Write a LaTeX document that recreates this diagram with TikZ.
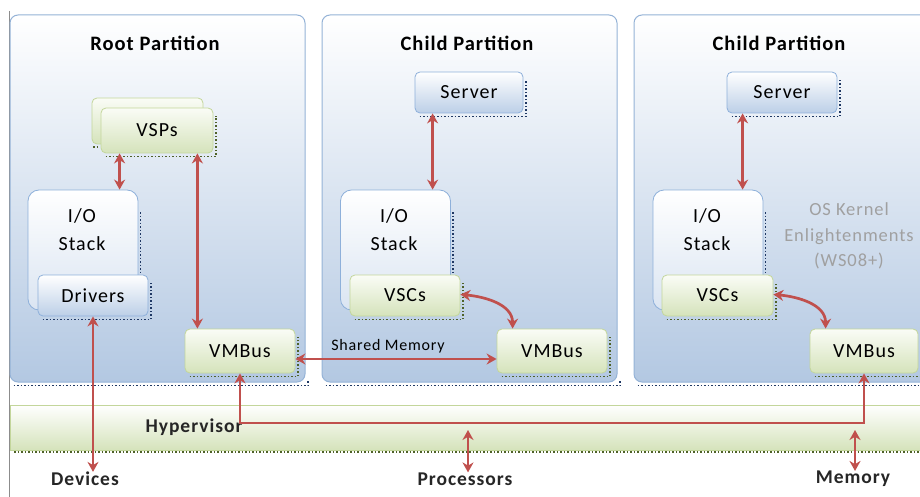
\documentclass[tikz,border=0pt]{standalone}
\usepackage{fontspec}
\setmainfont{Carlito}[LetterSpace=5]
\usetikzlibrary{arrows.meta,calc}
\definecolor{partborder}{HTML}{95B3D7}
\definecolor{partbot}{HTML}{B3C8E2}
\definecolor{partmid}{HTML}{D2DFEE}
\definecolor{blueborder}{HTML}{8EB0DA}
\definecolor{bluebot}{HTML}{BCCFE7}
\definecolor{greenborder}{HTML}{C3D69B}
\definecolor{greenbot}{HTML}{D5E3BB}
\definecolor{greentop}{HTML}{FAFCF6}
\definecolor{navydot}{HTML}{1F3864}
\definecolor{olivedot}{HTML}{4F6228}
\definecolor{arrred}{HTML}{C0504D}
\definecolor{graytxt}{HTML}{A0A0A0}
\newcommand\dotshade[2]{\draw[#1] ([xshift=5pt,yshift=-3pt]#2.south west) -- ([xshift=2.5pt,yshift=-3pt]#2.south east) -- ([xshift=2.5pt,yshift=-8pt]#2.north east);}
\newcommand\dotbottom[2]{\draw[#1] ([xshift=4pt,yshift=-3pt]#2.south west) -- ([xshift=2.5pt,yshift=-3pt]#2.south east) -- ([xshift=2.5pt,yshift=3pt]#2.south east);}
\tikzset{
  partition/.style={draw=partborder, line width=1pt, rounded corners=8pt, top color=white, middle color=partmid, bottom color=partbot, minimum width=295pt, minimum height=367pt, inner sep=0pt},
  bluebox/.style={draw=blueborder, line width=0.8pt, rounded corners=5pt, top color=white, bottom color=bluebot, inner sep=0pt, font=\fontsize{20}{25}\selectfont},
  greenbox/.style={draw=greenborder, line width=0.8pt, rounded corners=5pt, top color=greentop, bottom color=greenbot, inner sep=0pt, font=\fontsize{20}{25}\selectfont},
  iostack/.style={draw=blueborder, line width=0.8pt, rounded corners=11pt, top color=white, bottom color=bluebot!55, inner sep=0pt, minimum width=110pt, minimum height=120pt},
  lbl/.style={inner sep=0pt, font=\fontsize{20}{25}\selectfont},
  title/.style={inner sep=0pt, font=\bfseries\fontsize{20.5}{24}\selectfont},
  bottomlbl/.style={inner sep=0pt, font=\bfseries\fontsize{19.5}{24}\selectfont, text=black!85},
  bshade/.style={draw=navydot, dotted, line width=1.5pt},
  gshade/.style={draw=olivedot, dotted, line width=1.5pt},
  arr/.style={draw=arrred, line width=2.7pt, {Stealth[length=10pt,width=11pt]}-{Stealth[length=10pt,width=11pt]}},
}
\begin{document}
\begin{tikzpicture}[x=1pt,y=-1pt]
\clip (0,0) rectangle (920,497);
\fill[white] (0,0) rectangle (920,497);
% left thin line
\draw[black!45, line width=0.8pt] (9,11) -- (9,497);
% partitions
\node[partition] (rootP) at (157.5,198.5) {};
\node[partition] (childA) at (469.5,198.5) {};
\node[partition] (childB) at (781.5,198.5) {};
\dotbottom{bshade}{rootP}
\dotbottom{bshade}{childA}
\dotbottom{bshade}{childB}
\node[title] (tRoot) at (155,43) {Root Partition};
\node[title] (tChildA) at (467,43) {Child Partition};
\node[title] (tChildB) at (779,43) {Child Partition};
% hypervisor bar
\node[draw=greenborder, line width=0.8pt, top color=white, bottom color=greenbot, minimum width=925pt, minimum height=45pt, inner sep=0pt] (hyp) at (472.5,427.5) {};
\draw[gshade] (14,452) -- (920,452);
\node[bottomlbl] (hypl) at (194,427) {Hypervisor};
% root partition contents
\node[greenbox, minimum width=111pt, minimum height=46pt] (vspback) at (147.5,121) {};
\draw[gshade] (93,147) -- (99,147);
\node[greenbox, minimum width=112pt, minimum height=45pt] (vsp) at (157,130.5) {VSPs};
\dotshade{gshade}{vsp}
\node[iostack] (ioA) at (83,250) {};
\draw[bshade] (140.5,212) -- (140.5,273);
\node[lbl, align=center, font=\fontsize{20}{28}\selectfont] (ioAl) at (82,230) {I/O\\Stack};
\node[bluebox, minimum width=110pt, minimum height=41pt] (drv) at (93,295.5) {Drivers};
\dotshade{bshade}{drv}
\node[greenbox, minimum width=110pt, minimum height=44pt] (vmbA) at (240,351) {VMBus};
\dotshade{gshade}{vmbA}
% child A contents
\node[bluebox, minimum width=108pt, minimum height=41pt] (srvA) at (469,92.5) {Server};
\dotshade{bshade}{srvA}
\node[iostack] (ioB) at (395.5,250) {};
\draw[bshade] (453,212) -- (453,273);
\node[lbl, align=center, font=\fontsize{20}{28}\selectfont] (ioBl) at (394,230) {I/O\\Stack};
\node[greenbox, minimum width=110pt, minimum height=41pt] (vscA) at (405,295.5) {VSCs};
\dotshade{gshade}{vscA}
\node[greenbox, minimum width=110pt, minimum height=44pt] (vmbB) at (552,351) {VMBus};
\dotshade{gshade}{vmbB}
% child B contents
\node[bluebox, minimum width=110pt, minimum height=41pt] (srvB) at (782,92.5) {Server};
\dotshade{bshade}{srvB}
\node[iostack] (ioC) at (708,250) {};
\draw[bshade] (765.5,212) -- (765.5,273);
\node[lbl, align=center, font=\fontsize{20}{28}\selectfont] (ioCl) at (707,230) {I/O\\Stack};
\node[greenbox, minimum width=111pt, minimum height=41pt] (vscB) at (717.5,295.5) {VSCs};
\dotshade{gshade}{vscB}
\node[greenbox, minimum width=108pt, minimum height=44pt] (vmbC) at (864,351) {VMBus};
\dotshade{gshade}{vmbC}
\node[lbl, align=center, text=graytxt, font=\fontsize{18.5}{25.5}\selectfont] (osk) at (849,236) {OS Kernel\\Enlightenments\\(WS08+)};
% bottom labels
\node[bottomlbl] (dev) at (85,479) {Devices};
\node[bottomlbl] (proc) at (465,479) {Processors};
\node[bottomlbl] (mem) at (853,479) {Memory};
% connectors
\draw[arr] ([xshift=19pt]vsp.south west) -- ([xshift=19pt]vsp.south west |- ioA.north);
\draw[arr] ([xshift=-16pt]vsp.south east) -- ([xshift=-16pt]vsp.south east |- vmbA.north);
\draw[arr] (drv.south) -- (drv.south |- dev.north);
\draw[arr] ([xshift=18pt]srvA.south west) -- ([xshift=18pt]srvA.south west |- ioB.north);
\draw[arr] ([xshift=16pt]srvB.south west) -- ([xshift=16pt]srvB.south west |- ioC.north);
\draw[arr] ([yshift=1pt]vscA.east) to[out=-5,in=90] ([xshift=16pt]vmbB.north west);
\draw[arr] ([yshift=1pt]vscB.east) to[out=-5,in=90] ([xshift=16pt]vmbC.north west);
\draw[arr] ([yshift=-8pt]vmbA.east) -- ([yshift=-8pt]vmbB.west);
\node[lbl, font=\fontsize{16}{20}\selectfont] (shm) at (388,346) {Shared Memory};
\coordinate (hline) at (0,423);
\draw[arr, rounded corners=0pt] (vmbA.south) -- (vmbA.south |- hline) -- (vmbC.south |- hline) -- (vmbC.south);
\coordinate (procTop) at (468,430);
\coordinate (memTop) at (855,430);
\draw[arr] (procTop) -- (procTop |- proc.north);
\draw[arr] (memTop) -- (memTop |- mem.north);
\end{tikzpicture}
\end{document}
